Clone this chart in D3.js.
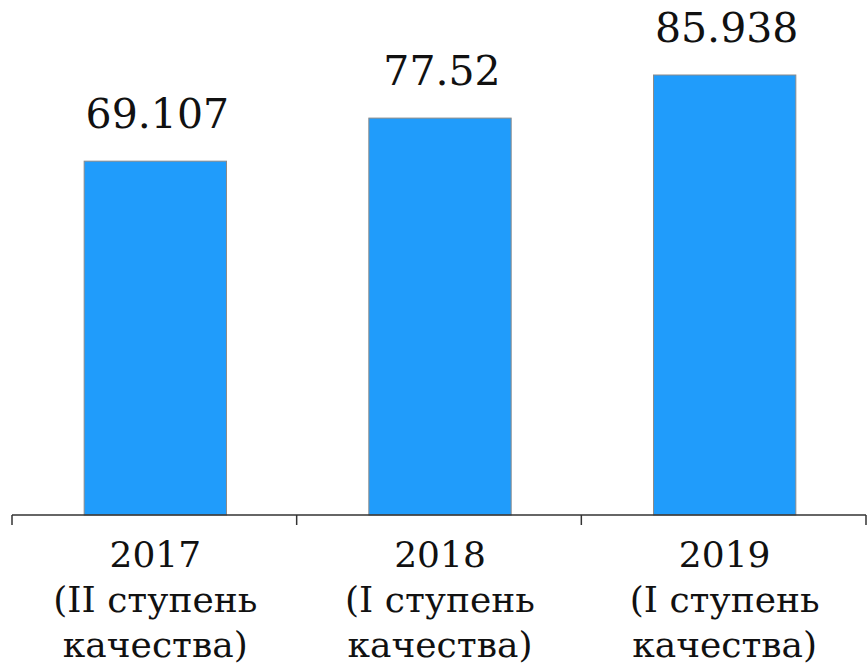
<!DOCTYPE html>
<meta charset="utf-8">
<style>
body { margin: 0; background: #fff; }
text { font-family: "DejaVu Serif", serif; fill: #111; }
</style>
<body>
  <div class="chart"></div>
</body>
<script src="https://cdn.jsdelivr.net/npm/d3@7"></script>
<script>

var years = ["2017", "2018", "2019"];
var grades = ["(II ступень", "(I ступень", "(I ступень"];
var gradeTail = ["качества)", "качества)", "качества)"];
var values = [69.107, 77.52, 85.938];

var width = 867, height = 669;

var svg = d3.select(".chart")
        .append("svg")
        .attr("width", width)
        .attr("height", height);

var x = d3.scaleBand()
        .domain(years)
        .range([13, 867])
        .paddingInner(0.5)
        .paddingOuter(0.25);

var y = d3.scaleLinear()
        .domain([0, 100])
        .range([515, 3]);

svg.selectAll(".bar")
        .data(values)
        .enter()
        .append("rect")
        .attr("class", "bar")
        .attr("x", function(d, i) { return x(years[i]); })
        .attr("y", function(d) { return y(d); })
        .attr("width", x.bandwidth())
        .attr("height", function(d) { return y(0) - y(d); })
        .style("fill", "#209cfb")
        .style("stroke", "#8a8a8a")
        .style("stroke-width", 1);

svg.selectAll(".val")
        .data(values)
        .enter()
        .append("text")
        .attr("class", "val")
        .attr("x", function(d, i) { return x(years[i]) + x.bandwidth() / 2 + 2; })
        .attr("y", function(d) { return y(d) - 33; })
        .style("text-anchor", "middle")
        .style("font-size", "41px")
        .text(function(d) { return d; });

// axis line with ticks at category boundaries
var bounds = d3.range(4).map(function(i) { return 12 + i * (854 / 3); });

svg.append("line")
        .attr("x1", 12).attr("x2", 866)
        .attr("y1", y(0)).attr("y2", y(0))
        .style("stroke", "#333")
        .style("stroke-width", 1.5);

svg.selectAll(".tick")
        .data(bounds)
        .enter()
        .append("line")
        .attr("x1", function(d) { return d; })
        .attr("x2", function(d) { return d; })
        .attr("y1", y(0))
        .attr("y2", y(0) + 10)
        .style("stroke", "#333")
        .style("stroke-width", 1.5);

var cat = svg.selectAll(".cat")
        .data(years)
        .enter()
        .append("text")
        .attr("class", "cat")
        .style("text-anchor", "middle")
        .style("font-size", "36px");

cat.append("tspan")
        .attr("x", function(d) { return x(d) + x.bandwidth() / 2; })
        .attr("y", 567)
        .text(function(d) { return d; });
cat.append("tspan")
        .attr("x", function(d) { return x(d) + x.bandwidth() / 2; })
        .attr("y", 612)
        .text(function(d, i) { return grades[i]; });
cat.append("tspan")
        .attr("x", function(d) { return x(d) + x.bandwidth() / 2; })
        .attr("y", 657)
        .text(function(d, i) { return gradeTail[i]; });

</script>
